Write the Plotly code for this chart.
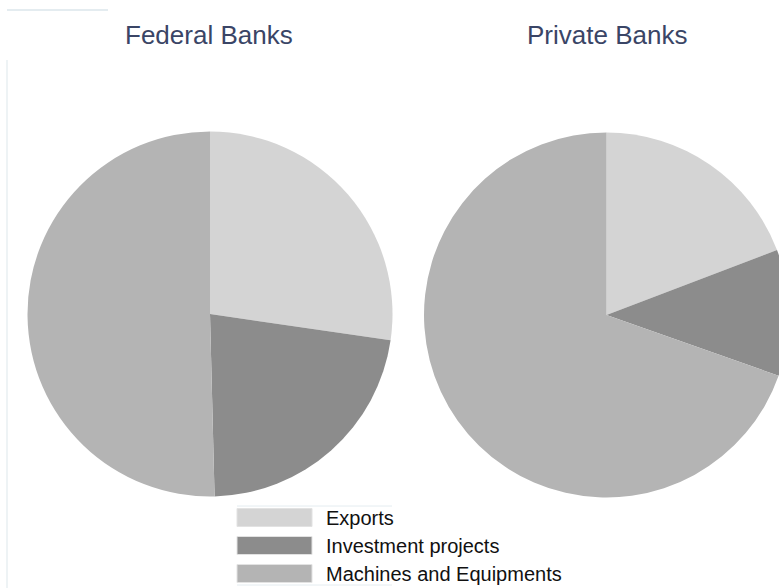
import plotly.graph_objects as go

categories = ["Exports", "Investment projects", "Machines and Equipments"]
federal_values = [27.3, 22.3, 50.4]
private_values = [19.2, 11.2, 69.6]
titles = ["Federal Banks", "Private Banks"]
colors = ["#d4d4d4", "#8c8c8c", "#b4b4b4"]

W, H = 790, 588  # slightly wider than the window so the right pie is clipped like the reference

def dom(cx, cy, r):
    return dict(x=[(cx - r) / W, (cx + r) / W], y=[(H - cy - r) / H, (H - cy + r) / H])

fig = go.Figure()
fig.add_trace(go.Pie(labels=categories, values=federal_values, sort=False, direction="clockwise",
                     rotation=0, textinfo="none", hoverinfo="label+percent",
                     marker=dict(colors=colors, line=dict(width=0)),
                     domain=dom(210, 314, 182.5), showlegend=False))
fig.add_trace(go.Pie(labels=categories, values=private_values, sort=False, direction="clockwise",
                     rotation=0, textinfo="none", hoverinfo="label+percent",
                     marker=dict(colors=colors, line=dict(width=0)),
                     domain=dom(606.5, 315, 182.5), showlegend=False))

annotations = []
for t, cx in zip(titles, [209, 607]):
    annotations.append(dict(text=t, x=cx / W, y=1 - 35 / H, xref="paper", yref="paper",
                            xanchor="center", yanchor="middle", showarrow=False,
                            font=dict(family="Liberation Sans, Arial", size=26, color="#3a4566")))

shapes = []
# manual legend with wide swatches
for i, (c, name) in enumerate(zip(colors, categories)):
    top = 508.5 + i * 28
    bot = top + 18
    shapes.append(dict(type="rect", xref="paper", yref="paper",
                       x0=237 / W, x1=312 / W, y0=1 - bot / H, y1=1 - top / H,
                       fillcolor=c, line=dict(color="#e2e2e2", width=1)))
    annotations.append(dict(text=name, x=324 / W, y=1 - (top + 9) / H, xref="paper", yref="paper",
                            xanchor="left", yanchor="middle", showarrow=False,
                            font=dict(family="Liberation Sans, Arial", size=20, color="#111111")))
# faint border lines of the original picture
shapes.append(dict(type="line", xref="paper", yref="paper", x0=237 / W, x1=392 / W,
                   y0=1 - 506 / H, y1=1 - 506 / H, line=dict(color="#e4ecf0", width=1)))
shapes.append(dict(type="line", xref="paper", yref="paper", x0=237 / W, x1=392 / W,
                   y0=1 - 585 / H, y1=1 - 585 / H, line=dict(color="#e4ecf0", width=1)))
shapes.append(dict(type="line", xref="paper", yref="paper", x0=7 / W, x1=108 / W,
                   y0=1 - 10 / H, y1=1 - 10 / H, line=dict(color="#e4ecf0", width=2)))
shapes.append(dict(type="line", xref="paper", yref="paper", x0=7 / W, x1=7 / W,
                   y0=1 - 60 / H, y1=0, line=dict(color="#eef3f5", width=2)))

fig.update_layout(width=W, height=H, margin=dict(l=0, r=0, t=0, b=0),
                  paper_bgcolor="white", plot_bgcolor="white",
                  annotations=annotations, shapes=shapes)

fig.write_html("out.html", config={"displayModeBar": False},
               post_script="document.body.style.margin='0';document.body.style.overflow='hidden';document.documentElement.style.overflow='hidden';")
